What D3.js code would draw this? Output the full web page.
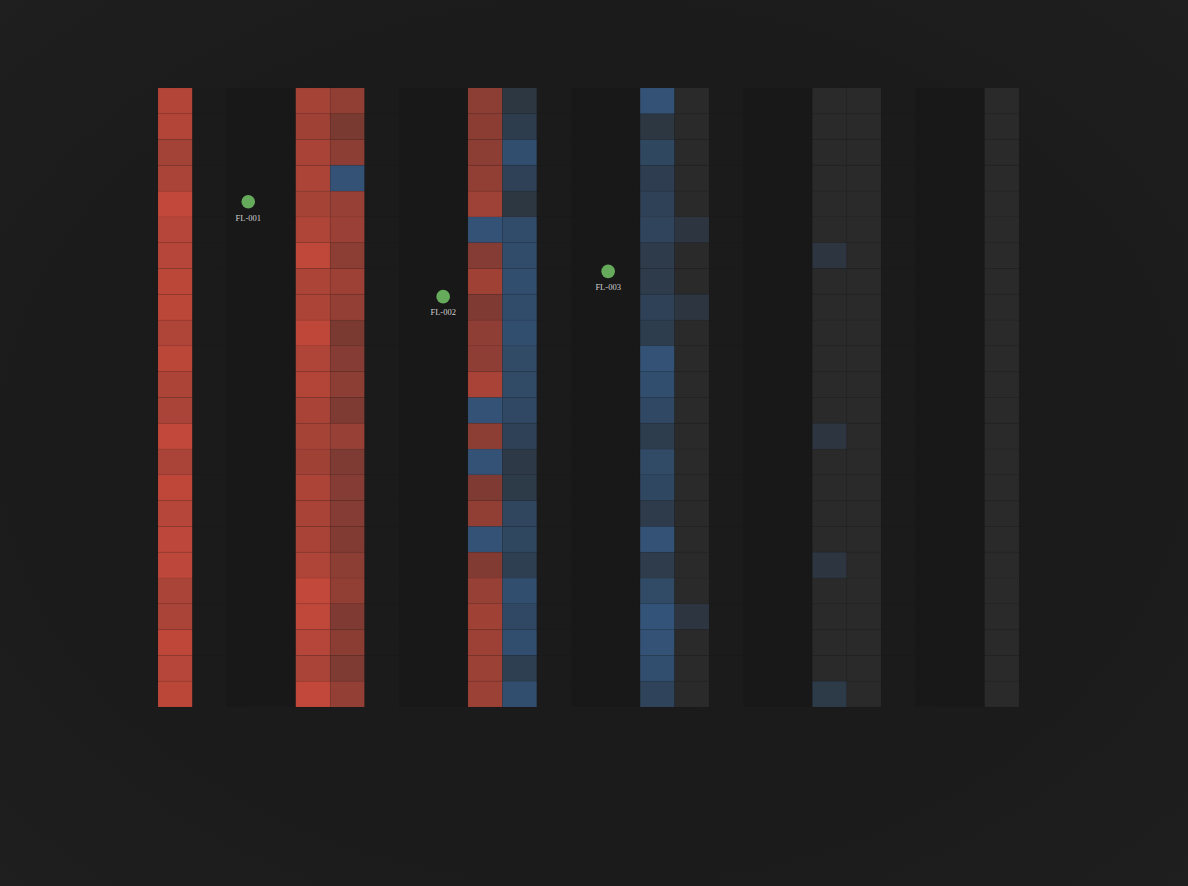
<!DOCTYPE html>
<html>
<head>
<meta charset="utf-8">
<script src="https://cdn.jsdelivr.net/npm/d3@7"></script>
<style>
  html, body { margin: 0; padding: 0; background: #1c1c1c; }
  svg { display: block; }
</style>
</head>
<body>
<svg id="chart" width="1188" height="886"></svg>
<script>
// ---- data ----
const columns = d3.range(25).map(i => "C" + (i + 1));
const rows = d3.range(24).map(i => "R" + (i + 1));
const Z = Array(24).fill(0);
const N = null;
const col00 = [0.9,0.9,0.8,0.85,1.0,0.92,0.93,0.96,0.96,0.88,0.96,0.86,0.85,1.0,0.85,0.98,0.92,0.97,0.97,0.85,0.85,0.98,0.93,0.96];
const col04 = [0.82,0.78,0.84,0.86,0.82,0.88,0.99,0.87,0.87,0.98,0.88,0.9,0.84,0.82,0.78,0.87,0.84,0.84,0.88,1.0,0.99,0.92,0.85,1.0];
const col05 = [0.68,0.52,0.65,-0.95,0.72,0.74,0.65,0.76,0.7,0.53,0.6,0.65,0.55,0.72,0.55,0.6,0.6,0.58,0.65,0.68,0.56,0.64,0.55,0.7];
const col09 = [0.65,0.64,0.65,0.68,0.77,-0.95,0.6,0.78,0.56,0.67,0.67,0.84,-0.95,0.65,-0.95,0.56,0.68,-0.95,0.58,0.72,0.78,0.76,0.75,0.75];
const col10 = [-0.3,-0.45,-0.85,-0.55,-0.3,-0.8,-0.8,-0.85,-0.8,-0.85,-0.75,-0.75,-0.72,-0.55,-0.35,-0.38,-0.65,-0.68,-0.5,-0.85,-0.72,-0.85,-0.5,-0.85];
const col14 = [-0.95,-0.3,-0.68,-0.48,-0.55,-0.62,-0.4,-0.4,-0.55,-0.45,-0.95,-0.85,-0.72,-0.45,-0.75,-0.7,-0.4,-0.95,-0.42,-0.75,-0.98,-0.95,-0.85,-0.6];
const col15 = [0,0,0,0,0,-0.28,0,0,-0.28,0,0,0,0,0,0,0,0,0,0,0,-0.28,0,0,0];
const col19 = [0,0,0,0,0,0,-0.28,0,0,0,0,0,0,-0.28,0,0,0,0,-0.28,0,0,0,0,-0.38];
const col20 = Z;
const col24 = Z;
const columnValues = [col00,N,N,N,col04,col05,N,N,N,col09,col10,N,N,N,col14,col15,N,N,N,col19,col20,N,N,N,col24];

const pointNames = ["FL-001", "FL-002", "FL-003"];
const pointCol = [2.62, 8.28, 13.07];
const pointRow = [4.41, 8.09, 7.11];

// ---- drawing ----
const W = 1188, H = 886;
const svg = d3.select("#chart");
const defs = svg.append("defs");
const grad = defs.append("radialGradient").attr("id", "bg")
  .attr("cx", "50%").attr("cy", "50%").attr("r", "75%");
grad.append("stop").attr("offset", "0%").attr("stop-color", "#1a1a1a");
grad.append("stop").attr("offset", "60%").attr("stop-color", "#1b1b1b");
grad.append("stop").attr("offset", "100%").attr("stop-color", "#1f1f1f");
svg.append("rect").attr("width", W).attr("height", H).attr("fill", "url(#bg)");

const x = d3.scaleBand().domain(columns).range([158, 1019]).padding(0);
const y = d3.scaleBand().domain(rows).range([88, 707]).padding(0);
const xl = d3.scaleLinear().domain([0, columns.length]).range([158, 1019]);
const yl = d3.scaleLinear().domain([0, rows.length]).range([88, 707]);
const color = d3.scaleLinear().domain([-1, 0, 1])
  .range(["#33547a", "#2a2a2a", "#c1483a"]).clamp(true);

const cells = [];
columns.forEach((c, ci) => {
  rows.forEach((r, ri) => {
    const arr = columnValues[ci];
    cells.push({ c, r, ci, v: arr ? arr[ri] : null });
  });
});

svg.append("g").selectAll("rect").data(cells).join("rect")
  .attr("x", d => x(d.c))
  .attr("y", d => y(d.r))
  .attr("width", x.bandwidth())
  .attr("height", y.bandwidth())
  .attr("fill", d => d.v === null ? (d.ci % 5 === 1 ? "#1b1b1b" : "#181818") : color(d.v))
  .attr("stroke", d => d.v === null ? "none" : "#000")
  .attr("stroke-opacity", 0.035)
  .attr("stroke-width", 1);

const pts = pointNames.map((n, i) => ({ n, cx: pointCol[i], cy: pointRow[i] }));
const pg = svg.append("g");
pg.selectAll("circle").data(pts).join("circle")
  .attr("cx", d => xl(d.cx))
  .attr("cy", d => yl(d.cy))
  .attr("r", 6.8)
  .attr("fill", "#66ab5c");
pg.selectAll("text").data(pts).join("text")
  .attr("x", d => xl(d.cx))
  .attr("y", d => yl(d.cy) + 18.8)
  .attr("text-anchor", "middle")
  .attr("font-family", "'Liberation Serif', 'Times New Roman', serif")
  .attr("font-size", "8.5px")
  .attr("fill", "#cfcfcf")
  .text(d => d.n);
</script>
</body>
</html>
